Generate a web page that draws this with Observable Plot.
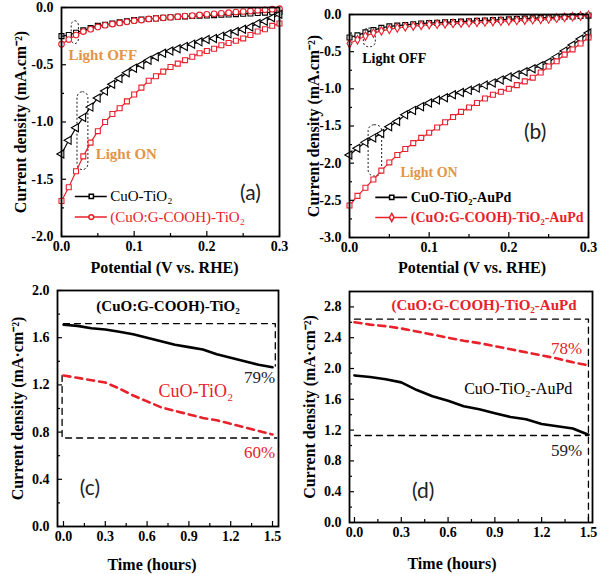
<!DOCTYPE html>
<html><head><meta charset="utf-8">
<script src="https://cdn.jsdelivr.net/npm/d3@7"></script>
<script src="https://cdn.jsdelivr.net/npm/@observablehq/plot@0.6"></script>
<style>
body{margin:0;background:#fff;}
#wrap{position:relative;width:600px;height:574px;overflow:hidden;background:#fff;}
.panel{position:absolute;}
.panel svg{overflow:visible;background:transparent !important;font-family:'Liberation Serif','Times New Roman',serif;}
</style></head><body><div id="wrap"></div>
<script>
// ---------- data ----------
const potential = [0,0.01,0.02,0.03,0.04,0.05,0.06,0.07,0.08,0.09,0.10,0.11,0.12,0.13,0.14,0.15,0.16,0.17,0.18,0.19,0.20,0.21,0.22,0.23,0.24,0.25,0.26,0.27,0.28,0.29,0.30];

// panel (a)
const aBlackOff = [-0.25,-0.24,-0.22,-0.20,-0.18,-0.16,-0.15,-0.14,-0.13,-0.12,-0.11,-0.105,-0.10,-0.095,-0.09,-0.085,-0.08,-0.078,-0.075,-0.072,-0.07,-0.067,-0.064,-0.061,-0.058,-0.055,-0.052,-0.048,-0.045,-0.042,-0.04];
const aRedOff = [-0.32,-0.28,-0.24,-0.21,-0.19,-0.17,-0.155,-0.145,-0.135,-0.125,-0.115,-0.11,-0.10,-0.095,-0.09,-0.085,-0.08,-0.075,-0.07,-0.065,-0.06,-0.055,-0.05,-0.045,-0.04,-0.035,-0.03,-0.025,-0.02,-0.015,-0.01];
const aBlackOn = [-1.28,-1.16,-1.05,-0.96,-0.87,-0.79,-0.73,-0.67,-0.62,-0.57,-0.53,-0.50,-0.46,-0.43,-0.40,-0.38,-0.36,-0.34,-0.32,-0.30,-0.28,-0.27,-0.25,-0.23,-0.21,-0.19,-0.17,-0.14,-0.12,-0.09,-0.06];
const aRedOn = [-1.69,-1.57,-1.43,-1.30,-1.18,-1.08,-1.00,-0.93,-0.88,-0.82,-0.76,-0.70,-0.64,-0.60,-0.56,-0.52,-0.49,-0.46,-0.43,-0.40,-0.38,-0.36,-0.33,-0.31,-0.29,-0.27,-0.24,-0.21,-0.19,-0.16,-0.14];

// panel (b)
const bBlackOff = [-0.31,-0.28,-0.24,-0.21,-0.18,-0.16,-0.15,-0.14,-0.13,-0.12,-0.115,-0.11,-0.105,-0.10,-0.095,-0.09,-0.085,-0.08,-0.075,-0.07,-0.065,-0.06,-0.055,-0.05,-0.045,-0.04,-0.035,-0.03,-0.025,-0.02,-0.015];
const bRedOff = [-0.39,-0.34,-0.29,-0.25,-0.22,-0.20,-0.18,-0.165,-0.155,-0.145,-0.135,-0.13,-0.125,-0.12,-0.115,-0.11,-0.105,-0.10,-0.095,-0.09,-0.085,-0.08,-0.075,-0.07,-0.065,-0.06,-0.05,-0.04,-0.03,-0.02,-0.01];
const bBlackOn = [-1.89,-1.80,-1.72,-1.66,-1.60,-1.51,-1.44,-1.35,-1.29,-1.24,-1.19,-1.15,-1.12,-1.08,-1.05,-1.02,-0.99,-0.95,-0.92,-0.88,-0.84,-0.81,-0.77,-0.73,-0.69,-0.64,-0.57,-0.49,-0.41,-0.33,-0.25];
const bRedOn = [-2.57,-2.44,-2.33,-2.22,-2.10,-1.99,-1.89,-1.81,-1.73,-1.66,-1.59,-1.52,-1.45,-1.38,-1.31,-1.25,-1.19,-1.13,-1.08,-1.04,-1.00,-0.95,-0.90,-0.85,-0.78,-0.70,-0.63,-0.54,-0.47,-0.39,-0.31];

// panels (c), (d)
const time = [0,0.1,0.2,0.3,0.4,0.5,0.6,0.7,0.8,0.9,1.0,1.1,1.2,1.3,1.4,1.5];
const cBlack = [1.71,1.70,1.68,1.67,1.65,1.63,1.60,1.57,1.54,1.52,1.50,1.46,1.43,1.40,1.37,1.35];
const cRed = [1.28,1.26,1.24,1.22,1.17,1.11,1.06,1.01,0.98,0.95,0.92,0.90,0.87,0.84,0.81,0.78];
const dRed = [2.60,2.57,2.55,2.52,2.48,2.44,2.40,2.36,2.33,2.29,2.25,2.21,2.17,2.13,2.08,2.04];
const dBlack = [1.91,1.89,1.86,1.82,1.72,1.64,1.58,1.51,1.47,1.42,1.37,1.34,1.28,1.25,1.22,1.14];

// guide levels (retention boxes)
const cGuideTop = [{t:0,v:1.72},{t:1.52,v:1.72},{t:1.52,v:1.36}];
const cGuideBottom = [{t:-0.01,v:1.28},{t:-0.01,v:0.75},{t:1.53,v:0.75}];
const dGuideTop = [{t:0,v:2.64},{t:1.5,v:2.64},{t:1.5,v:0}];
const dGuideBottom = [{t:0,v:1.13},{t:1.5,v:1.13}];

// tick values
const potTicks = [0,0.1,0.2,0.3];
const potMinor = [0.05,0.15,0.25];
const aYTicks = [0,-0.5,-1.0,-1.5,-2.0];
const aYMinor = [-0.25,-0.75,-1.25,-1.75];
const bYTicks = [0,-0.5,-1.0,-1.5,-2.0,-2.5,-3.0];
const bYMinor = [-0.25,-0.75,-1.25,-1.75,-2.25,-2.75];
const timeTicks = [0,0.3,0.6,0.9,1.2,1.5];
const timeMinor = [0.15,0.45,0.75,1.05,1.35];
const cYTicks = [0,0.4,0.8,1.2,1.6,2.0];
const cYMinor = [0.2,0.6,1.0,1.4,1.8];
const dYTicks = [0,0.4,0.8,1.2,1.6,2.0,2.4,2.8];
const dYMinor = [0.2,0.6,1.0,1.4,1.8,2.2,2.6];

// ---------- helpers ----------
const RED = "#e8212b", ORANGE = "#e39445";
const SERIF = "Liberation Serif", SANS = "Lato";
const pts = (xs, ys) => xs.map((x, i) => ({x, y: ys[i]}));
const fmt1 = d => d.toFixed(1);
const T = (o) => Object.assign({fontFamily: SERIF}, o);

function panel(cfg) {
  const {left, top, width, height, mt, mr, mb, ml} = cfg;
  const pw = width - ml - mr, ph = height - mt - mb;
  const chart = Plot.plot({
    width, height, marginTop: mt, marginRight: mr, marginBottom: mb, marginLeft: ml,
    x: {domain: cfg.xDomain}, y: {domain: cfg.yDomain},
    style: "font-family: 'Liberation Serif', serif; background: transparent; color: #000; overflow: visible;",
    marks: [
      ...cfg.marks,
      Plot.tickY(cfg.yMinor, {y: d => d, insetRight: pw - 3, strokeWidth: 1.2}),
      Plot.tickY(cfg.yTicks, {y: d => d, insetRight: pw - 5, strokeWidth: 1.2}),
      Plot.tickX(cfg.xMinor, {x: d => d, insetTop: ph - 3, strokeWidth: 1.2}),
      Plot.tickX(cfg.xTicks, {x: d => d, insetTop: ph - 5, strokeWidth: 1.2}),
      Plot.axisY(cfg.yTicks, {tickSize: 0, tickPadding: 8, tickFormat: fmt1, fontSize: 14, fontWeight: "bold", fontFamily: SERIF, label: null}),
      Plot.axisX(cfg.xTicks, {tickSize: 0, tickPadding: 5, tickFormat: fmt1, fontSize: 14, fontWeight: "bold", fontFamily: SERIF, label: null}),
      Plot.text([cfg.yLabel], T({text: d => d, frameAnchor: "left", rotate: -90, dx: cfg.yDx, textAnchor: "middle", lineAnchor: "middle", fontSize: 16, fontWeight: "bold"})),
      Plot.text([cfg.xLabel], T({text: d => d, frameAnchor: "bottom", dy: cfg.xDy, dx: cfg.xDx || 0, textAnchor: "middle", lineAnchor: "middle", fontSize: 16, fontWeight: "bold"})),
      Plot.frame({strokeWidth: 1.8})
    ]
  });
  const div = document.createElement("div");
  div.className = "panel";
  div.style.left = left + "px"; div.style.top = top + "px";
  div.appendChild(chart);
  document.getElementById("wrap").appendChild(div);
}

function curve(xs, ys, color, symbol, opts = {}) {
  const d = pts(xs, ys);
  return [
    Plot.line(d, {x: "x", y: "y", stroke: color, strokeWidth: 1.2}),
    Plot.dot(d, {x: "x", y: "y", stroke: color, fill: "white", symbol, r: opts.r || 2.8, strokeWidth: 1.1, rotate: opts.rotate || 0})
  ];
}

// ---------- panel (a) ----------
const aLegendLabels = ["CuO-TiO₂", "(CuO:G-COOH)-TiO₂"];
panel({
  left: 0, top: 0, width: 300, height: 290, mt: 7, mr: 21, mb: 54, ml: 61,
  xDomain: [0, 0.3], yDomain: [-2.0, 0],
  xTicks: potTicks, xMinor: potMinor, yTicks: aYTicks, yMinor: aYMinor,
  yLabel: "Current density (mA.cm⁻²)", yDx: -41,
  xLabel: "Potential (V vs. RHE)", xDy: 31, xDx: -6,
  marks: [
    Plot.rect([{x1: 0.014, x2: 0.024, y1: -0.12, y2: -0.32}], {x1: "x1", x2: "x2", y1: "y1", y2: "y2", stroke: "#000", strokeDasharray: "2,2", strokeWidth: 0.9, rx: 5, fill: "none"}),
    Plot.rect([{x1: 0.022, x2: 0.037, y1: -0.74, y2: -1.42}], {x1: "x1", x2: "x2", y1: "y1", y2: "y2", stroke: "#000", strokeDasharray: "2,2", strokeWidth: 0.9, rx: 6, fill: "none"}),
    ...curve(potential, aBlackOff, "#000", "square"),
    ...curve(potential, aRedOff, RED, "circle"),
    ...curve(potential, aBlackOn, "#000", "triangle", {rotate: -90, r: 3}),
    ...curve(potential, aRedOn, RED, "square"),
    Plot.text(["Light OFF"], T({text: d => d, x: 0.0095, y: -0.42, textAnchor: "start", fill: ORANGE, fontSize: 15, fontWeight: "bold"})),
    Plot.text(["Light ON"], T({text: d => d, x: 0.047, y: -1.28, textAnchor: "start", fill: ORANGE, fontSize: 15, fontWeight: "bold"})),
    Plot.text(["(a)"], {text: d => d, x: 0.26, y: -1.62, fontFamily: SANS, fontSize: 21, fill: "#222"}),
    Plot.ruleY([-1.65], {x1: 0.019, x2: 0.063, stroke: "#000", strokeWidth: 1.6}),
    Plot.dot([{x: 0.041, y: -1.65}], {x: "x", y: "y", symbol: "square", r: 2.4, stroke: "#000", fill: "white"}),
    Plot.ruleY([-1.83], {x1: 0.019, x2: 0.063, stroke: RED, strokeWidth: 1.6}),
    Plot.dot([{x: 0.041, y: -1.83}], {x: "x", y: "y", symbol: "circle", r: 2.4, stroke: RED, fill: "white"}),
    Plot.text([aLegendLabels[0]], T({text: d => d, x: 0.067, y: -1.65, textAnchor: "start", fontSize: 15, fill: "#000"})),
    Plot.text([aLegendLabels[1]], T({text: d => d, x: 0.067, y: -1.83, textAnchor: "start", fontSize: 15, fill: RED}))
  ]
});

// ---------- panel (b) ----------
const bLegendLabels = ["CuO-TiO₂-AuPd", "(CuO:G-COOH)-TiO₂-AuPd"];
panel({
  left: 300, top: 0, width: 300, height: 290, mt: 14, mr: 12, mb: 53, ml: 49,
  xDomain: [0, 0.3], yDomain: [-3.0, 0],
  xTicks: potTicks, xMinor: potMinor, yTicks: bYTicks, yMinor: bYMinor,
  yLabel: "Current density (mA.cm⁻²)", yDx: -36,
  xLabel: "Potential (V vs. RHE)", xDy: 30, xDx: 3,
  marks: [
    Plot.rect([{x1: 0.018, x2: 0.033, y1: -0.19, y2: -0.44}], {x1: "x1", x2: "x2", y1: "y1", y2: "y2", stroke: "#000", strokeDasharray: "2,2", strokeWidth: 0.9, rx: 5, fill: "none"}),
    Plot.rect([{x1: 0.024, x2: 0.041, y1: -1.49, y2: -2.18}], {x1: "x1", x2: "x2", y1: "y1", y2: "y2", stroke: "#000", strokeDasharray: "2,2", strokeWidth: 0.9, rx: 6, fill: "none"}),
    ...curve(potential, bBlackOff, "#000", "square"),
    ...curve(potential, bRedOff, RED, "diamond", {r: 2.6}),
    ...curve(potential, bBlackOn, "#000", "triangle", {rotate: -90, r: 3}),
    ...curve(potential, bRedOn, RED, "square"),
    Plot.text(["Light OFF"], T({text: d => d, x: 0.016, y: -0.59, textAnchor: "start", fill: "#000", fontSize: 14, fontWeight: "bold"})),
    Plot.text(["Light ON"], T({text: d => d, x: 0.064, y: -2.13, textAnchor: "start", fill: ORANGE, fontSize: 14, fontWeight: "bold"})),
    Plot.text(["(b)"], {text: d => d, x: 0.233, y: -1.59, fontFamily: SANS, fontSize: 21, fill: "#222"}),
    Plot.ruleY([-2.46], {x1: 0.033, x2: 0.073, stroke: "#000", strokeWidth: 1.6}),
    Plot.dot([{x: 0.053, y: -2.46}], {x: "x", y: "y", symbol: "square", r: 2.4, stroke: "#000", fill: "white"}),
    Plot.ruleY([-2.73], {x1: 0.033, x2: 0.073, stroke: RED, strokeWidth: 1.6}),
    Plot.dot([{x: 0.053, y: -2.73}], {x: "x", y: "y", symbol: "diamond", r: 2.4, stroke: RED, fill: "white"}),
    Plot.text([bLegendLabels[0]], T({text: d => d, x: 0.077, y: -2.46, textAnchor: "start", fontSize: 14, fontWeight: "bold", fill: "#000"})),
    Plot.text([bLegendLabels[1]], T({text: d => d, x: 0.077, y: -2.73, textAnchor: "start", fontSize: 14, fontWeight: "bold", fill: RED}))
  ]
});

// ---------- panel (c) ----------
panel({
  left: 0, top: 280, width: 300, height: 294, mt: 10, mr: 22, mb: 48, ml: 57,
  xDomain: [-0.043, 1.543], yDomain: [0, 2.0],
  xTicks: timeTicks, xMinor: timeMinor, yTicks: cYTicks, yMinor: cYMinor,
  yLabel: "Current density (mA·cm⁻²)", yDx: -40,
  xLabel: "Time (hours)", xDy: 38, xDx: -16,
  marks: [
    Plot.line(cGuideTop, {x: "t", y: "v", stroke: "#000", strokeWidth: 1.3, strokeDasharray: "6,5"}),
    Plot.line(cGuideBottom, {x: "t", y: "v", stroke: "#000", strokeWidth: 1.3, strokeDasharray: "6,5"}),
    Plot.line(pts(time, cBlack), {x: "x", y: "y", stroke: "#000", strokeWidth: 2.6}),
    Plot.line(pts(time, cRed), {x: "x", y: "y", stroke: RED, strokeWidth: 2.6, strokeDasharray: "7,5"}),
    Plot.text(["(CuO:G-COOH)-TiO₂"], T({text: d => d, x: 0.75, y: 1.87, fontSize: 15, fontWeight: "bold", fill: "#000"})),
    Plot.text(["79%"], T({text: d => d, x: 1.52, y: 1.26, textAnchor: "end", fontSize: 17, fill: "#222"})),
    Plot.text(["CuO-TiO₂"], T({text: d => d, x: 0.95, y: 1.15, fontSize: 18, fill: RED})),
    Plot.text(["60%"], T({text: d => d, x: 1.52, y: 0.63, textAnchor: "end", fontSize: 17, fill: RED})),
    Plot.text(["(c)"], {text: d => d, x: 0.19, y: 0.32, fontFamily: SANS, fontSize: 21, fill: "#222"})
  ]
});

// ---------- panel (d) ----------
panel({
  left: 300, top: 280, width: 300, height: 294, mt: 11, mr: 8, mb: 52, ml: 49,
  xDomain: [-0.032, 1.526], yDomain: [0, 3.0],
  xTicks: timeTicks, xMinor: timeMinor, yTicks: dYTicks, yMinor: dYMinor,
  yLabel: "Current density (mA·cm⁻²)", yDx: -40,
  xLabel: "Time (hours)", xDy: 41, xDx: -19,
  marks: [
    Plot.line(dGuideTop, {x: "t", y: "v", stroke: "#000", strokeWidth: 1.3, strokeDasharray: "6,5"}),
    Plot.line(dGuideBottom, {x: "t", y: "v", stroke: "#000", strokeWidth: 1.3, strokeDasharray: "6,5"}),
    Plot.line(pts(time, dBlack), {x: "x", y: "y", stroke: "#000", strokeWidth: 2.6}),
    Plot.line(pts(time, dRed), {x: "x", y: "y", stroke: RED, strokeWidth: 2.6, strokeDasharray: "7,5"}),
    Plot.text(["(CuO:G-COOH)-TiO₂-AuPd"], T({text: d => d, x: 0.83, y: 2.82, fontSize: 15, fontWeight: "bold", fill: RED})),
    Plot.text(["78%"], T({text: d => d, x: 1.46, y: 2.26, textAnchor: "end", fontSize: 17, fill: RED})),
    Plot.text(["CuO-TiO₂-AuPd"], T({text: d => d, x: 1.05, y: 1.74, fontSize: 16, fill: "#000"})),
    Plot.text(["59%"], T({text: d => d, x: 1.46, y: 0.94, textAnchor: "end", fontSize: 17, fill: "#222"})),
    Plot.text(["(d)"], {text: d => d, x: 0.44, y: 0.40, fontFamily: SANS, fontSize: 21, fill: "#222"})
  ]
});
</script></body></html>
